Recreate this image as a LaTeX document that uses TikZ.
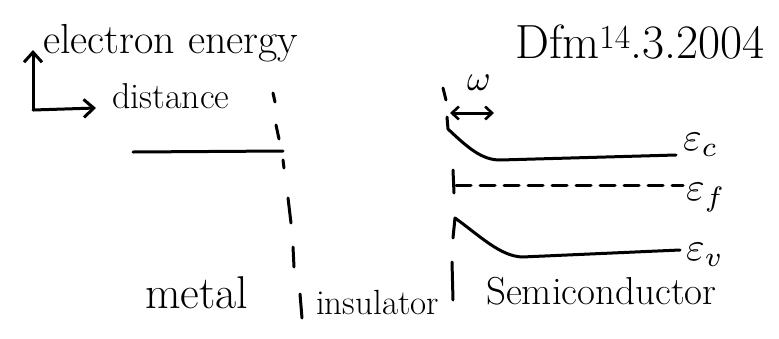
\documentclass[tikz,border=0pt]{standalone}
\usetikzlibrary{arrows.meta}
\begin{document}
\begin{tikzpicture}[x=1pt,y=-1pt, line cap=round, line join=round,
  ink/.style={line width=3pt, black},
  lbl/.style={inner sep=0pt, anchor=base west},
  fs/.style={font=\fontsize{#1}{#1}\selectfont},
  tip/.style={-{Straight Barb[length=10pt,width=18pt,line width=3pt]}},
  twotip/.style={{Straight Barb[length=7pt,width=13pt,line width=2.6pt]}-{Straight Barb[length=7pt,width=13pt,line width=2.6pt]}}]
\useasboundingbox (0,0) rectangle (779,338);
% axes
\coordinate (o) at (33,110);
\coordinate (up) at (33,50);
\coordinate (rt) at (96,108);
\draw[ink,tip] (o) -- (up);
\draw[ink,tip] (o) -- (rt);
\node[lbl,fs=42] (ee) at (43,53) {electron energy};
\node[lbl,fs=36] (dist) at (112,108) {distance};
% signature
\node[lbl,fs=48] (sig) at (515,58) {Dfm\textsuperscript{14}.3.2004};
% metal / insulator interface (dashed by hand)
\foreach \a/\b in {{273,93}/{275,102},{276,125}/{279,139},{283,160}/{284,168},{288,198}/{291,223},{293,247}/{294,267},{300,294}/{302,318}}
  \draw[ink] (\a) -- (\b);
% metal level
\coordinate (m1) at (133,152);
\coordinate (m2) at (283,151);
\draw[ink] (m1) -- (m2);
% insulator / semiconductor interface
\foreach \a/\b in {{443,88}/{446,100},{453,170}/{454,193},{452,262}/{453,300}}
  \draw[ink] (\a) -- (\b);
% w arrow
\coordinate (w1) at (450,113);
\coordinate (w2) at (494,113);
\draw[ink,twotip] (w1) -- (w2);
\node[lbl] (w) at (467,90) {\scalebox{3.6}{$\omega$}};
% Ec
\coordinate (c0) at (447,117);
\coordinate (c1) at (448,129);
\coordinate (c2) at (500,160);
\coordinate (c3) at (676,155);
\draw[ink] (c0) -- (c1) .. controls (468,148) and (482,160) .. (c2) -- (c3);
\node[lbl] (ec) at (683,150) {\scalebox{4}{$\varepsilon_c$}};
% Ef
\coordinate (f1) at (456,185);
\coordinate (f2) at (683,185);
\draw[ink, dash pattern=on 15pt off 9pt] (f1) -- (f2);
\node[lbl] (ef) at (686,200) {\scalebox{4}{$\varepsilon_f$}};
% Ev
\coordinate (v0) at (453,238);
\coordinate (v1) at (455,218);
\coordinate (v2) at (522,257);
\coordinate (v3) at (680,250);
\draw[ink] (v0) -- (v1) .. controls (480,236) and (500,256) .. (v2) -- (v3);
\node[lbl] (ev) at (686,260) {\scalebox{4}{$\varepsilon_v$}};
% region labels
\node[lbl,fs=46] (metal) at (145,308) {metal};
\node[lbl,fs=35] (ins) at (316,314) {insulator};
\node[lbl,fs=39] (sc) at (486,304) {Semiconductor};
\end{tikzpicture}
\end{document}
